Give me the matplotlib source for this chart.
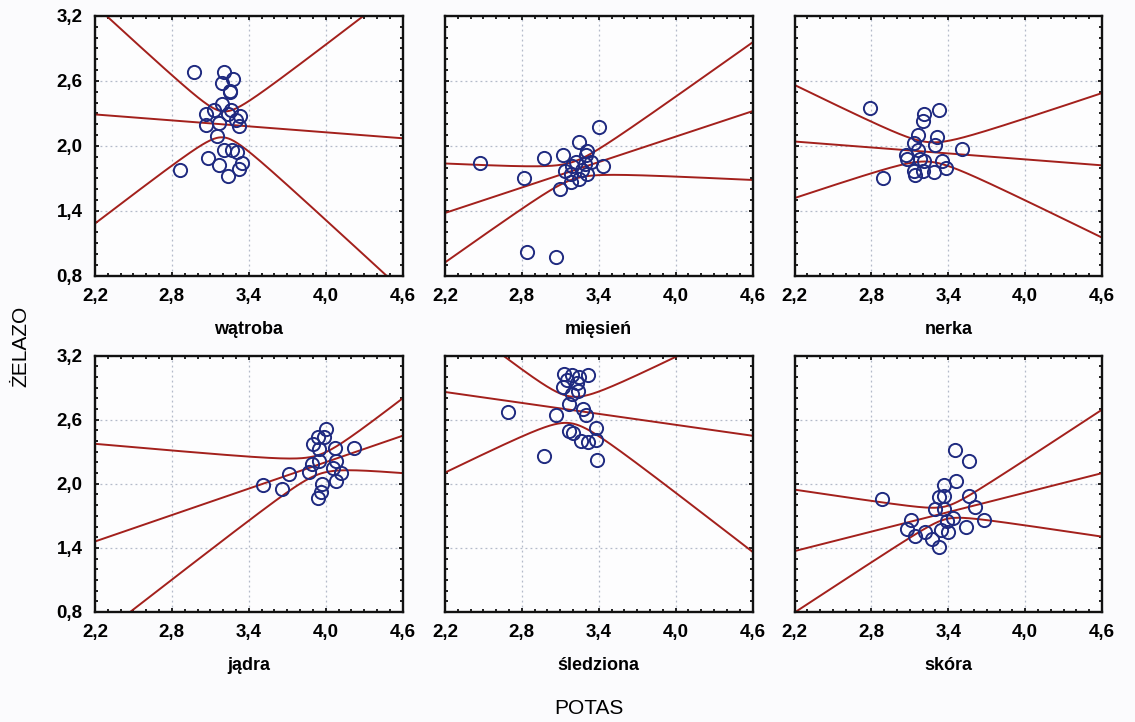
import numpy as np
import matplotlib
matplotlib.use("Agg")
import matplotlib.pyplot as plt
from matplotlib.ticker import MultipleLocator, FixedLocator, FixedFormatter

plt.rcParams["font.family"] = ["Liberation Sans", "DejaVu Sans"]

# potassium (x) vs iron (y) per organ
watroba_x = [2.97, 3.21, 3.28, 3.19, 3.25, 3.25, 3.19, 3.13, 3.26, 3.07, 3.24, 3.33, 3.30,
             3.07, 3.17, 3.32, 3.15, 3.21, 3.27, 3.31, 3.08, 3.35, 3.17, 3.32, 2.86, 3.24]
watroba_y = [2.68, 2.68, 2.62, 2.58, 2.51, 2.50, 2.39, 2.33, 2.33, 2.29, 2.29, 2.28, 2.24,
             2.19, 2.21, 2.18, 2.09, 1.96, 1.96, 1.94, 1.89, 1.84, 1.82, 1.79, 1.78, 1.72]

miesien_x = [2.47, 2.82, 2.97, 3.12, 3.25, 3.40, 3.31, 3.30, 3.34, 3.43, 3.19, 3.14, 3.18,
             3.27, 3.31, 3.25, 3.18, 3.10, 2.84, 3.07, 3.29, 3.22]
miesien_y = [1.84, 1.70, 1.89, 1.92, 2.04, 2.17, 1.95, 1.92, 1.85, 1.81, 1.81, 1.77, 1.74,
             1.78, 1.74, 1.69, 1.67, 1.60, 1.02, 0.97, 1.83, 1.85]

nerka_x = [2.79, 2.89, 3.21, 3.20, 3.33, 3.16, 3.31, 3.30, 3.13, 3.51, 3.07, 3.08, 3.18,
           3.21, 3.35, 3.38, 3.13, 3.20, 3.14, 3.29, 3.16]
nerka_y = [2.35, 1.70, 2.29, 2.23, 2.33, 2.10, 2.08, 2.01, 2.03, 1.97, 1.92, 1.88, 1.88,
           1.86, 1.86, 1.80, 1.77, 1.77, 1.73, 1.76, 1.96]

jadra_x = [3.51, 3.66, 3.71, 3.87, 3.90, 3.94, 4.00, 3.99, 3.95, 4.07, 4.22, 3.95, 4.08,
           4.06, 4.12, 4.08, 3.97, 3.96, 3.94, 3.89]
jadra_y = [1.99, 1.95, 2.09, 2.11, 2.37, 2.44, 2.51, 2.44, 2.33, 2.34, 2.34, 2.21, 2.21,
           2.15, 2.10, 2.03, 2.00, 1.92, 1.87, 2.19]

sledziona_x = [2.69, 2.97, 3.07, 3.13, 3.19, 3.25, 3.32, 3.12, 3.23, 3.24, 3.17, 3.28, 3.30,
               3.38, 3.17, 3.20, 3.26, 3.32, 3.38, 3.39, 3.19, 3.15]
sledziona_y = [2.67, 2.26, 2.64, 3.03, 3.02, 3.00, 3.02, 2.91, 2.94, 2.87, 2.75, 2.70, 2.64,
               2.52, 2.49, 2.48, 2.40, 2.39, 2.41, 2.22, 2.84, 2.97]

skora_x = [2.88, 3.45, 3.56, 3.46, 3.37, 3.37, 3.33, 3.56, 3.61, 3.30, 3.37, 3.68, 3.11,
           3.44, 3.08, 3.54, 3.22, 3.34, 3.40, 3.14, 3.27, 3.33, 3.39]
skora_y = [1.86, 2.32, 2.21, 2.03, 1.99, 1.89, 1.88, 1.89, 1.78, 1.76, 1.76, 1.66, 1.66,
           1.68, 1.58, 1.60, 1.55, 1.57, 1.55, 1.51, 1.48, 1.41, 1.65]

organs = ["wątroba", "mięsień", "nerka", "jądra", "śledziona", "skóra"]

# regression line at x=2.2 and x=4.6, plus 95% band shape per organ
fit_left = [2.29, 1.38, 2.04, 1.46, 2.86, 1.37]
fit_right = [2.07, 2.32, 1.82, 2.45, 2.45, 2.10]
band_x0 = [3.20, 3.20, 3.25, 3.95, 3.18, 3.38]
band_min = [0.12, 0.08, 0.09, 0.09, 0.125, 0.06]
band_slope = [1.00, 0.45, 0.49, 0.52, 0.76, 0.485]

x_ticks = [2.2, 2.8, 3.4, 4.0, 4.6]
x_tick_labels = ["2,2", "2,8", "3,4", "4,0", "4,6"]
y_ticks = [0.8, 1.4, 2.0, 2.6, 3.2]
y_tick_labels = ["0,8", "1,4", "2,0", "2,6", "3,2"]

xs = [watroba_x, miesien_x, nerka_x, jadra_x, sledziona_x, skora_x]
ys = [watroba_y, miesien_y, nerka_y, jadra_y, sledziona_y, skora_y]

LINE = "#a3201c"
DOT = "#1f2a80"
GRID = "#b3bac9"

fig = plt.figure(figsize=(11.35, 7.22), dpi=100, facecolor="#fbfbfd")

lefts = [0.0837, 0.392, 0.700]
rows = [(0.618, 0.360), (0.1524, 0.355)]

for i in range(6):
    r, c = divmod(i, 3)
    ax = fig.add_axes([lefts[c], rows[r][0], 0.271, rows[r][1]])
    ax.set_facecolor("#fdfdfe")
    ax.set_xlim(2.2, 4.6)
    ax.set_ylim(0.8, 3.2)

    ax.grid(True, color=GRID, linestyle=(0, (1.5, 2.5)), linewidth=0.9, zorder=0)

    xx = np.linspace(2.2, 4.6, 300)
    slope = (fit_right[i] - fit_left[i]) / 2.4
    fit = fit_left[i] + slope * (xx - 2.2)
    half = np.sqrt(band_min[i] ** 2 + (band_slope[i] * (xx - band_x0[i])) ** 2)
    for yy in (fit, fit + half, fit - half):
        ax.plot(xx, yy, color=LINE, linewidth=1.4, zorder=2)

    ax.plot(xs[i], ys[i], linestyle="none", marker="o", markersize=9.5,
            markerfacecolor="none", markeredgecolor=DOT, markeredgewidth=1.4, zorder=3)

    ax.xaxis.set_major_locator(FixedLocator(x_ticks))
    ax.xaxis.set_major_formatter(FixedFormatter(x_tick_labels))
    ax.yaxis.set_major_locator(FixedLocator(y_ticks))
    ax.xaxis.set_minor_locator(MultipleLocator(0.1))
    ax.yaxis.set_minor_locator(MultipleLocator(0.1))
    ax.tick_params(which="both", direction="in", top=True, right=True, width=1.3, color="#111111")
    ax.tick_params(which="major", length=3, pad=9, labelsize=13.5)
    ax.tick_params(which="minor", length=2.5)
    if c == 0:
        ax.yaxis.set_major_formatter(FixedFormatter(y_tick_labels))
    else:
        ax.set_yticklabels([])
    for lab in ax.get_xticklabels() + ax.get_yticklabels():
        lab.set_fontweight("bold")

    for spine in ax.spines.values():
        spine.set_linewidth(1.7)
        spine.set_color("#111111")

    ax.set_xlabel(organs[i], fontsize=13, fontweight="bold", labelpad=11)

fig.text(0.018, 0.52, "ŻELAZO", rotation=90, fontsize=15, ha="center", va="center")
fig.text(0.519, 0.019, "POTAS", fontsize=15, ha="center", va="center")

fig.savefig("out.png", dpi=100, facecolor=fig.get_facecolor())
